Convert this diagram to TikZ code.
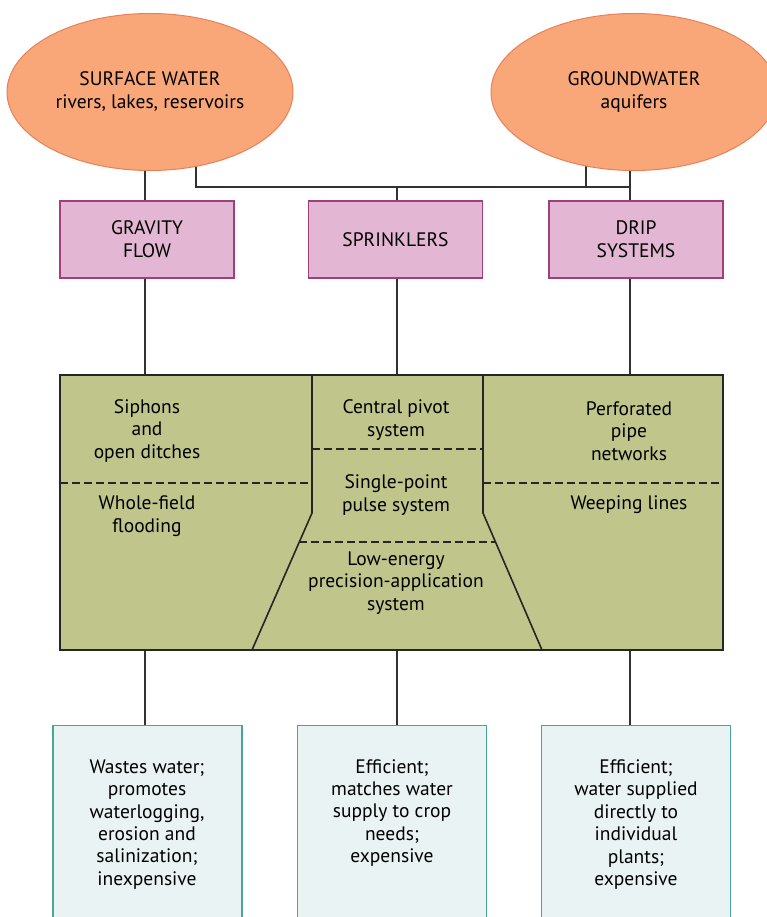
\documentclass[tikz,border=0pt]{standalone}
\usepackage{fontspec}
\setmainfont{PT Sans}
\usetikzlibrary{shapes.geometric,backgrounds}
\definecolor{salmon}{RGB}{249,166,121}
\definecolor{salmonline}{RGB}{232,128,90}
\definecolor{pinkfill}{RGB}{227,182,211}
\definecolor{pinkline}{RGB}{160,64,122}
\definecolor{olive}{RGB}{191,197,139}
\definecolor{outfill}{RGB}{233,243,243}
\definecolor{outline}{RGB}{70,168,148}
\definecolor{conn}{RGB}{50,50,50}
\tikzset{
  src/.style={ellipse, draw=salmonline, fill=salmon, line width=1pt, minimum width=286pt, minimum height=157pt, inner sep=0pt, align=center, font=\fontsize{19.5}{23}\selectfont},
  method/.style={rectangle, draw=pinkline, fill=pinkfill, line width=1.2pt, minimum width=174pt, minimum height=77pt, inner sep=0pt, align=center, font=\fontsize{19.5}{23}\selectfont},
  bigbox/.style={rectangle, draw=black!85, fill=olive, line width=1.6pt, minimum width=663pt, minimum height=275pt, inner sep=0pt},
  outbox/.style={rectangle, draw=outline, fill=outfill, line width=1.2pt, minimum width=189pt, minimum height=215pt, inner sep=0pt, anchor=north},
  txt/.style={align=center, inner sep=0pt, font=\fontsize{19.5}{22.4}\selectfont},
  conline/.style={draw=conn, line width=1.3pt},
  divline/.style={draw=black!85, line width=1.6pt},
  dashline/.style={draw=black!85, line width=1.6pt, dash pattern=on 8pt off 4pt}
}
\begin{document}
\begin{tikzpicture}[x=1pt,y=-1pt]
\useasboundingbox (0,0) rectangle (767,917);

% sources
\node[src] (sw) at (150,92) {SURFACE WATER\\rivers, lakes, reservoirs};
\node[src] (gw) at (634,92) {GROUNDWATER\\aquifers};

% methods
\node[method] (grav) at (147,239.5) {GRAVITY\\FLOW};
\node[method] (spr) at (395.5,239.5) {SPRINKLERS};
\node[method] (drip) at (636,239.5) {DRIP\\SYSTEMS};

% junction coordinates
\coordinate (j1) at (196,187);
\coordinate (j2) at (630,187);
\coordinate (j3) at (586,187);

% big box
\node[bigbox] (big) at (391.5,512.5) {};

% output boxes
\node[outbox] (o1) at (147.5,725) {};
\node[outbox] (o2) at (392,725) {};
\node[outbox] (o3) at (636,725) {};

\begin{scope}[on background layer]
\draw[conline] (sw.center -| 145,0) -- (145,201);
\draw[conline] (sw.center -| j1) -- (j1) -- (j2);
\draw[conline] (gw.center -| j3) -- (j3);
\draw[conline] (gw.center -| j2) -- (j2 |- drip.north);
\draw[conline] (j1 -| 397,0) -- (397,201);
% down to big box
\draw[conline] (145,278) -- (145,375);
\draw[conline] (397,278) -- (397,375);
\draw[conline] (630,278) -- (630,375);
% down to outputs
\draw[conline] (145,650) -- (145,725);
\draw[conline] (397,650) -- (397,725);
\draw[conline] (630,650) -- (630,725);
\end{scope}

% dividers inside big box
\draw[divline] (312,375) -- (312,513) -- (252,650);
\draw[divline] (483,375) -- (483,513) -- (542,650);
\draw[dashline] (60,483) -- (312,483);
\draw[dashline] (483,483) -- (723,483);
\draw[dashline] (312,449) -- (483,449);
\draw[dashline] (299,542) -- (495,542);

% texts inside big box
\node[txt] (siph) at (147,431) {Siphons\\and\\open ditches};
\node[txt] (whole) at (147,516) {Whole-field\\flooding};
\node[txt] (cent) at (396,420) {Central pivot\\system};
\node[txt] (single) at (396,495) {Single-point\\pulse system};
\node[txt] (low) at (396,583) {Low-energy\\precision-application\\system};
\node[txt] (perf) at (629,431) {Perforated\\pipe\\networks};
\node[txt] (weep) at (629,505) {Weeping lines};

% output texts
\node[txt] (t1) at (147,824.5) {Wastes water;\\promotes\\waterlogging,\\erosion and\\salinization;\\inexpensive};
\node[txt] (t2) at (392,813) {Efficient;\\matches water\\supply to crop\\needs;\\expensive};
\node[txt] (t3) at (636,824.5) {Efficient;\\water supplied\\directly to\\individual\\plants;\\expensive};
\end{tikzpicture}
\end{document}
